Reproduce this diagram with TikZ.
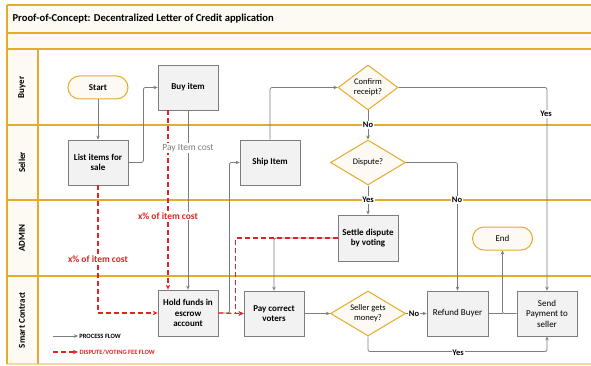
\documentclass[tikz,border=0pt]{standalone}
\usepackage{fontspec}
\setmainfont{Carlito}
\usetikzlibrary{shapes.geometric,arrows.meta}

\definecolor{lanegold}{RGB}{228,172,42}
\definecolor{flowgray}{RGB}{125,125,125}
\definecolor{feered}{RGB}{225,35,35}
\definecolor{boxfill}{RGB}{242,242,242}
\definecolor{cream}{RGB}{253,250,243}

\tikzset{
  procbox/.style={draw=flowgray, fill=boxfill, line width=0.8pt,
    minimum width=60pt, minimum height=45pt, align=center, inner sep=1pt,
    font=\fontsize{9}{10.5}\selectfont\bfseries},
  plainbox/.style={procbox, font=\fontsize{9}{10.5}\selectfont},
  terminal/.style={draw=lanegold, fill=cream, line width=1pt,
    rounded corners=11.5pt, minimum width=60pt, minimum height=23pt,
    font=\fontsize{9}{10.5}\selectfont},
  decision/.style={shape=diamond, draw=lanegold, fill=cream, line width=1pt,
    minimum width=60pt, minimum height=45pt, inner sep=-8pt, align=center,
    font=\fontsize{8.5}{10}\selectfont},
  flow/.style={draw=flowgray, line width=0.8pt, rounded corners=2pt,
    -{Stealth[length=4pt,width=3.5pt]}},
  fee/.style={draw=feered, line width=1.2pt, dash pattern=on 5pt off 3pt,
    -{Stealth[length=5pt,width=4.5pt]}},
  tag/.style={fill=white, inner sep=0.8pt, font=\fontsize{8.5}{10}\selectfont\bfseries},
  feetag/.style={fill=white, inner sep=1pt, text=feered, font=\fontsize{9.5}{11}\selectfont\bfseries},
  lane/.style={rotate=90, font=\fontsize{9}{10.5}\selectfont\bfseries},
  laneline/.style={draw=lanegold, line width=1.2pt},
  legendtext/.style={anchor=west, inner sep=1pt, font=\fontsize{6.5}{7.5}\selectfont\bfseries},
}

\begin{document}
\begin{tikzpicture}[x=1pt, y=-1pt]
\useasboundingbox (0,0) rectangle (591,366);

% swimlane frame
\fill[cream] (7,5) rectangle (591,49);
\fill[cream] (7,49) rectangle (38,364);
\foreach \yy in {5,33,49,125,200,276} \draw[laneline] (7,\yy) -- (591,\yy);
\draw[laneline, draw=lanegold!45] (7,364) -- (591,364);
\draw[laneline] (7,5) -- (7,364);
\draw[laneline] (38,49) -- (38,364);

\node[anchor=west, font=\fontsize{10.6}{12.5}\selectfont\bfseries] (title) at (9,19)
  {Proof-of-Concept: Decentralized Letter of Credit application};

\node[lane] (lbuyer) at (22,87.5) {Buyer};
\node[lane] (lseller) at (22,162.5) {Seller};
\node[lane] (ladmin) at (22,238) {ADMIN};
\node[lane] (lsc) at (22,320) {Smart Contract};

% steps
\node[terminal, font=\fontsize{9}{10.5}\selectfont\bfseries] (start) at (98,87.5) {Start};
\node[procbox] (buy) at (188,87.5) {Buy item};
\node[procbox] (list) at (98,162.5) {List items for\\sale};
\node[procbox] (ship) at (270,162.5) {Ship Item};
\node[decision] (confirm) at (368,87.5) {Confirm\\receipt?};
\node[decision, minimum width=75pt] (dispute) at (368,162.5) {Dispute?};
\node[procbox, minimum height=46pt] (settle) at (368,238) {Settle dispute\\by voting};
\node[terminal] (end) at (502.5,238.5) {End};
\node[procbox, minimum height=46pt] (hold) at (188,313) {Hold funds in\\escrow\\account};
\node[procbox] (pay) at (274,313.5) {Pay correct\\voters};
\node[decision, minimum width=75pt] (gets) at (368,313.5) {Seller gets\\money?};
\node[plainbox, minimum width=61pt] (refund) at (457.5,313.5) {Refund Buyer};
\node[plainbox] (send) at (547,313.5) {Send\\Payment to\\seller};

% process flow
\draw[flow] (start) -- (list);
\draw[flow] (list.east) -- ++(15,0) |- (buy.west);
\draw[flow] (buy.south) -- (hold.north);
\draw[flow] (hold.east) -- ++(11,0) |- (ship.west);
\draw[flow] (ship.north) |- (confirm.west);
\draw[flow] (confirm.south) -- (dispute.north);
\draw[flow] (confirm.east) -| (send.north);
\draw[flow] (dispute.south) -- (settle.north);
\draw[flow] (dispute.east) -| (refund.north);
\draw[flow] (settle.west) -| (pay.north);
\draw[flow] (pay.east) -- (gets.west);
\draw[flow] (gets.east) -- (refund.west);
\draw[flow] (gets.south) -- ++(0,15) -| (send.south);
\coordinate (join) at (end.south |- refund.east);
\draw[flow, -] (refund.east) -- (join);
\draw[flow] (send.west) -| (end.south);

% dispute / voting fee flow
\draw[fee] ([xshift=-20pt]buy.south) -- ([xshift=-20pt]hold.north);
\draw[fee] (list.south) |- (hold.west);
\draw[fee] (hold.east) -- (pay.west);
\draw[fee] (settle.west) -| ([xshift=-8pt]pay.west) -- (pay.west);

% labels on connectors
\node[fill=white, inner sep=1pt, text=flowgray, font=\fontsize{9.5}{11}\selectfont] (paycost) at (188,148) {Pay Item cost};
\node[feetag] (fee1) at (168,216) {x\% of item cost};
\node[feetag] (fee2) at (98,259) {x\% of item cost};
\node[tag] (no1) at (368,125) {No};
\node[tag] (yes1) at (546,114) {Yes};
\node[tag] (yes2) at (368,200) {Yes};
\node[tag] (no2) at (457,200) {No};
\node[tag] (no3) at (414,313.5) {No};
\node[tag] (yes3) at (458,353) {Yes};

% legend
\coordinate (lg1) at (53,336);
\coordinate (lg2) at (53,352);
\draw[flow] (lg1) -- ++(25,0) node[legendtext] (lgt1) {PROCESS FLOW};
\draw[fee] (lg2) -- ++(25,0) node[legendtext, text=feered] (lgt2) {DISPUTE/VOTING FEE FLOW};
\end{tikzpicture}
\end{document}
